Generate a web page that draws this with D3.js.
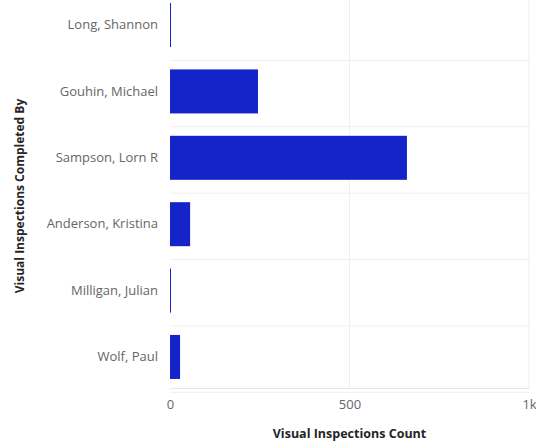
<!DOCTYPE html>
<html><head><meta charset="utf-8">
<script src="https://cdn.jsdelivr.net/npm/d3@7"></script>
<style>body{margin:0;background:#fff;}svg{display:block;}</style>
</head><body>
<script>
const categories = ["Long, Shannon","Gouhin, Michael","Sampson, Lorn R","Anderson, Kristina","Milligan, Julian","Wolf, Paul"];
const values = [2, 245, 660, 56, 2, 28];
const xTicks = [0, 500, 1000];
const xTickLabels = ["0", "500", "1k"];
const xTitle = "Visual Inspections Count";
const yTitle = "Visual Inspections Completed By";

const W = 536, H = 441;
const svg = d3.select("body").append("svg").attr("width", W).attr("height", H);
const m = {left:170, right:7, top:-6, bottom:53};
const x = d3.scaleLinear().domain([0,1000]).range([m.left, W - m.right]);
const y = d3.scaleBand().domain(categories).range([m.top, H - m.bottom]).paddingInner(0.337).paddingOuter(0.136);
const font = "'Open Sans', 'Noto Sans', sans-serif";

// horizontal grid lines between bands
const step = y.step();
const gridY = d3.range(1, categories.length + 1).map(i => m.top + i * step);
svg.append("g").selectAll("line").data(gridY).join("line")
  .attr("x1", m.left).attr("x2", W - m.right)
  .attr("y1", d => d).attr("y2", d => d)
  .attr("stroke", "#efefef").attr("stroke-width", 1);
// vertical grid lines
svg.append("g").selectAll("line").data(xTicks.slice(1)).join("line")
  .attr("x1", d => x(d)).attr("x2", d => x(d))
  .attr("y1", 0).attr("y2", H - m.bottom)
  .attr("stroke", "#f0f0f0").attr("stroke-width", 1);

// bars
svg.append("g").selectAll("rect").data(categories).join("rect")
  .attr("x", x(0))
  .attr("y", d => y(d))
  .attr("width", (d,i) => Math.max(1, x(values[i]) - x(0)))
  .attr("height", y.bandwidth())
  .attr("fill", "#1424c8");

// y axis
const yAxis = d3.axisLeft(y).tickSize(0).tickPadding(12);
const gy = svg.append("g").attr("transform", `translate(${m.left},0)`).call(yAxis);
gy.select(".domain").remove();
gy.selectAll("text").attr("font-family", font).attr("font-size", 13).attr("fill", "#666");

// x axis
const xAxis = d3.axisBottom(x).tickValues(xTicks).tickSize(0).tickPadding(12)
  .tickFormat((d,i) => xTickLabels[i]);
const gx = svg.append("g").attr("transform", `translate(0,${H - m.bottom})`).call(xAxis);
gx.select(".domain").attr("stroke", "#e6e6e6");
gx.selectAll("text").attr("font-family", font).attr("font-size", 13).attr("fill", "#666");

// titles
svg.append("text").attr("x", x(500)).attr("y", 438).attr("text-anchor", "middle")
  .attr("font-family", font).attr("font-size", 12.5).attr("font-weight", "bold").attr("fill", "#252525")
  .text(xTitle);
svg.append("text").attr("transform", `translate(24,196) rotate(-90)`)
  .attr("text-anchor", "middle")
  .attr("font-family", font).attr("font-size", 12).attr("font-weight", "bold").attr("fill", "#252525")
  .text(yTitle);
</script>
</body></html>
